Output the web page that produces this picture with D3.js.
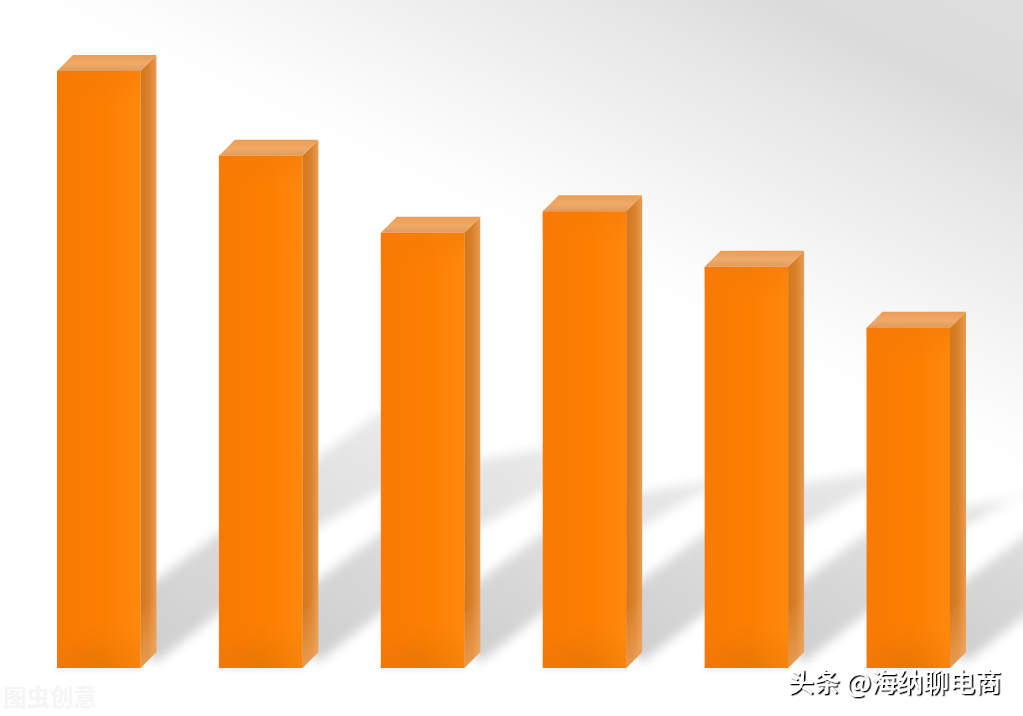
<!DOCTYPE html>
<html><head><meta charset="utf-8">
<script src="https://cdn.jsdelivr.net/npm/d3@7"></script>
<style>html,body{margin:0;padding:0;background:#fff;overflow:hidden}svg{display:block}</style>
</head><body><svg id="c" width="1023" height="716"></svg>
<script>
// Values (relative bar heights; the source has no axis labels)
const categories = ["A","B","C","D","E","F"];
const barValues = [100, 85.8, 72.9, 76.5, 67.2, 57];
const watermark = "图虫创意";
const credit = "头条 @海纳聊电商";

const W = 1023, H = 716, depth = 16, base = 668;
const svg = d3.select("#c");
const x = d3.scaleBand().domain(categories).range([57, 950]).paddingInner(0.4846).paddingOuter(0);
const y = d3.scaleLinear().domain([0, 100]).range([base, 71]);
const defs = svg.append("defs");

function lin(id, x1, y1, x2, y2, stops, user) {
  const g = defs.append("linearGradient").attr("id", id)
    .attr("x1", x1).attr("y1", y1).attr("x2", x2).attr("y2", y2);
  if (user) g.attr("gradientUnits", "userSpaceOnUse");
  stops.forEach(s => g.append("stop").attr("offset", s[0]).attr("stop-color", s[1]).attr("stop-opacity", s[2] === undefined ? 1 : s[2]));
}
lin("bg", 83, 36, 272, -360, [[0, "#ffffff"], [.09, "#fdfdfd"], [.25, "#f6f6f6"], [.39, "#efefef"], [.58, "#e6e6e6"], [.75, "#dbdbdb"], [1, "#dedede"]], true);
lin("front", 0, 0, 1, 0, [[0, "#f97a04"], [0.55, "#fd7e01"], [1, "#ff880c"]]);
lin("side", 0, 0, 1, 0, [[0, "#d0771f"], [0.5, "#d9802a"], [1, "#e99c52"]]);
lin("top", 0, 0, 0, 1, [[0, "#ea9d54"], [0.55, "#f0aa68"], [1, "#de9c60"]]);
lin("sideBottom", 0, 0, 0, 1, [[0, "#f2a860", 0], [1, "#f5b070", 0.6]]);
lin("frontTop", 0, 0, 0, 1, [[0, "#f27a08", 0.5], [1, "#f27a08", 0]]);
const rad = defs.append("radialGradient").attr("id", "frontBottom").attr("cx", .5).attr("cy", 1).attr("r", .8);
rad.append("stop").attr("offset", 0).attr("stop-color", "#cc6c0c").attr("stop-opacity", .42);
rad.append("stop").attr("offset", 1).attr("stop-color", "#d8700a").attr("stop-opacity", 0);
const shGrad = defs.append("linearGradient").attr("id", "shadowFill").attr("gradientUnits", "objectBoundingBox")
  .attr("x1", 0).attr("y1", 1).attr("x2", 1).attr("y2", 0);
shGrad.append("stop").attr("offset", 0).attr("stop-color", "#cdcdcd");
shGrad.append("stop").attr("offset", .45).attr("stop-color", "#dcdcdc");
shGrad.append("stop").attr("offset", 1).attr("stop-color", "#ebebeb");
defs.append("filter").attr("id", "blur").attr("x", "-20%").attr("y", "-20%").attr("width", "140%").attr("height", "140%")
  .append("feGaussianBlur").attr("stdDeviation", 5.5);
defs.append("filter").attr("id", "soft").attr("x", "-10%").attr("y", "-200%").attr("width", "120%").attr("height", "500%")
  .append("feGaussianBlur").attr("stdDeviation", 2);
const ts = defs.append("filter").attr("id", "tshadow").attr("x", "-5%").attr("y", "-20%").attr("width", "110%").attr("height", "140%");
ts.append("feDropShadow").attr("dx", 1.5).attr("dy", 1.3).attr("stdDeviation", 0.2).attr("flood-color", "#000").attr("flood-opacity", 1);

svg.append("rect").attr("width", W).attr("height", H).attr("fill", "url(#bg)");

// Cast shadows: derived from each bar's right edge and value
const shadowLine = d3.line();
svg.append("g").attr("filter", "url(#blur)").selectAll("path").data(categories).join("path")
  .attr("fill", "url(#shadowFill)")
  .attr("d", (c, i) => {
    const ax = x(c) + x.bandwidth() + depth;
    const tip = 2.55 * barValues[i];
    const up = Math.min(211, tip - 10);
    const P = (dx, h) => [ax + dx, base - h];
    return shadowLine([
      P(-20, 24), P(0, 6), P(60, 53), P(162, 142), P(222, 176), P(262, 193),
      P(262, tip + 8), P(222, tip), P(162, up), P(60, 133), P(0, 88), P(-20, 72)
    ]) + "Z";
  });

// Soft contact shadow beneath bars
svg.append("g").attr("filter", "url(#soft)").selectAll("rect").data(categories).join("rect")
  .attr("x", c => x(c)).attr("y", base - 1).attr("width", x.bandwidth()).attr("height", 3).attr("fill", "#e2e2e2");

const bars = svg.append("g").selectAll("g").data(categories).join("g");
const poly = pts => d3.line()(pts) + "Z";
const bw = x.bandwidth();

bars.append("path").attr("fill", "url(#side)")
  .attr("d", (c, i) => { const r = x(c) + bw, t = y(barValues[i]);
    return poly([[r, t], [r + depth, t - depth], [r + depth, base - depth], [r, base]]); });
bars.append("path").attr("fill", "url(#sideBottom)")
  .attr("d", (c) => { const r = x(c) + bw;
    return poly([[r, base - 55], [r + depth, base - 71], [r + depth, base - depth], [r, base]]); });
bars.append("path").attr("fill", "url(#top)")
  .attr("d", (c, i) => { const l = x(c), r = l + bw, t = y(barValues[i]);
    return poly([[l, t], [l + depth, t - depth], [r + depth, t - depth], [r, t]]); });
bars.append("rect").attr("fill", "url(#front)")
  .attr("x", c => x(c)).attr("y", (c, i) => y(barValues[i])).attr("width", bw)
  .attr("height", (c, i) => base - y(barValues[i]));
bars.append("rect").attr("fill", "url(#frontTop)")
  .attr("x", c => x(c)).attr("y", (c, i) => y(barValues[i])).attr("width", bw).attr("height", 34);
bars.append("rect").attr("fill", "url(#frontBottom)")
  .attr("x", c => x(c)).attr("y", base - 55).attr("width", bw).attr("height", 55);

const font = "'Noto Sans CJK SC','Noto Sans',sans-serif";
svg.append("text").attr("x", 3).attr("y", 706).attr("font-family", font).attr("font-size", 23.5)
  .attr("font-weight", 700).attr("fill", "#f5f5f5").text(watermark);
svg.append("text").attr("x", 788).attr("y", 692).attr("font-family", font).attr("font-size", 26)
  .attr("font-weight", 500).attr("fill", "#ffffff").attr("filter", "url(#tshadow)").text(credit);
</script></body></html>
